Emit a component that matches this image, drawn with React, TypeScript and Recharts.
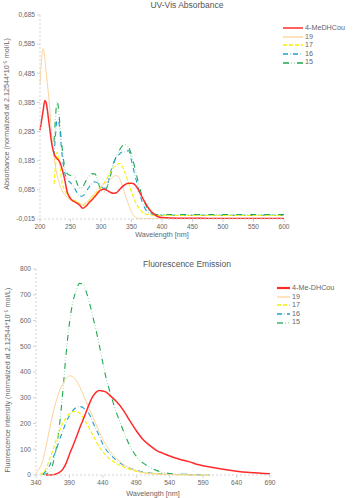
import { LineChart, Line, XAxis, YAxis, Legend } from "recharts";

// ---- UV-Vis absorbance (top) ----
const absWavelength = [
  200, 205, 208, 210, 215, 220, 223, 225, 228, 230, 233, 235,
  240, 245, 250, 255, 260, 265, 270, 275, 280, 285, 290, 295, 300, 305, 310,
  315, 320, 325, 330, 335, 340, 345, 350, 355, 360, 365, 370, 375, 380, 385,
  390, 395, 400, 425, 450, 475, 500, 525, 550, 575, 600,
];
const absMeDHCou = [
  0.29, 0.355, 0.392, 0.385, 0.31, 0.235, 0.21, 0.2, 0.192, 0.188, 0.178, 0.165,
  0.125, 0.075, 0.055, 0.046, 0.04, 0.032, 0.022, 0.028, 0.04, 0.05, 0.062, 0.075, 0.085, 0.087, 0.083,
  0.077, 0.073, 0.075, 0.085, 0.096, 0.104, 0.108, 0.108, 0.104, 0.09, 0.07, 0.05, 0.032, 0.016, 0.005,
  -0.003, -0.008, -0.01, -0.012, -0.012, -0.013, -0.013, -0.013, -0.013, -0.013, -0.013,
];
const abs19 = [
  0.445, 0.57, 0.535, 0.49, 0.39, 0.25, 0.2, 0.17, 0.135, 0.12, 0.097, 0.087,
  0.07, 0.058, 0.05, 0.045, 0.04, 0.036, 0.033, 0.04, 0.05, 0.062, 0.074, 0.086, 0.097, 0.105, 0.113,
  0.12, 0.13, 0.134, 0.125, 0.1, 0.065, 0.035, 0.01, -0.007, -0.012, -0.014, -0.014, -0.014, -0.014, -0.014,
  -0.014, -0.014, -0.014, -0.014, -0.014, -0.014, -0.014, -0.014, -0.014, -0.014, -0.014,
];
const abs17 = [
  null, null, null, null, null, null, 0.105, 0.16, 0.215, 0.195, 0.16, 0.125,
  0.085, 0.068, 0.058, 0.05, 0.045, 0.038, 0.03, 0.038, 0.048, 0.058, 0.068, 0.08, 0.095, 0.108, 0.125,
  0.143, 0.16, 0.168, 0.176, 0.165, 0.14, 0.11, 0.078, 0.05, 0.03, 0.015, 0.005, 0.001, 0, -0.002,
  -0.003, -0.003, -0.003, -0.003, -0.003, -0.003, -0.003, -0.003, -0.003, -0.003, -0.003,
];
const abs16 = [
  null, null, null, null, null, null, 0.2, 0.26, 0.325, 0.325, 0.28, 0.23,
  0.15, 0.12, 0.11, 0.098, 0.078, 0.063, 0.064, 0.077, 0.093, 0.106, 0.113, 0.108, 0.096, 0.09, 0.1,
  0.14, 0.175, 0.195, 0.207, 0.215, 0.215, 0.22, 0.185, 0.14, 0.1, 0.06, 0.03, 0.012, 0.005, 0.001,
  -0.001, -0.002, -0.002, -0.002, -0.002, -0.002, -0.002, -0.002, -0.002, -0.002, -0.002,
];
const abs15 = [
  null, null, null, null, null, null, 0.25, 0.32, 0.388, 0.37, 0.3, 0.255,
  0.17, 0.14, 0.135, 0.136, 0.112, 0.09, 0.095, 0.115, 0.13, 0.14, 0.14, 0.115, 0.082, 0.078, 0.095,
  0.13, 0.17, 0.2, 0.22, 0.236, 0.24, 0.232, 0.205, 0.165, 0.12, 0.08, 0.05, 0.025, 0.01, 0.003,
  0.001, 0, 0, 0, 0, 0, 0, 0, 0, 0, 0,
];
const absXTicks = [200, 250, 300, 350, 400, 450, 500, 550, 600];
const absYTicks = [-0.015, 0.085, 0.185, 0.285, 0.385, 0.485, 0.585, 0.685];

// ---- Fluorescence emission (bottom) ----
const emWavelength = [
  340, 345, 350, 355, 360, 365, 370, 375, 380, 385, 390, 395, 400, 405, 410, 415,
  420, 425, 430, 435, 440, 445, 450, 460, 470, 480, 490, 500, 510, 520, 530, 540,
  550, 560, 570, 580, 590, 600, 620, 640, 660, 690,
];
const emMeDHCou = [
  null, null, null, 0, 0, 1, 4, 10, 22, 45, 80, 112, 145, 180, 212, 245,
  278, 305, 322, 328, 326, 322, 310, 286, 254, 212, 172, 138, 115, 96, 84, 74,
  65, 57, 51, 42, 36, 31, 22, 15, 10, 5,
];
const em19 = [
  5, 25, 55, 110, 175, 235, 285, 325, 355, 375, 385, 382, 368, 345, 315, 285,
  255, 225, 195, 165, 138, 115, 95, 65, 42, 27, 17, 10, 6, 4, 3, 2,
  1, 1, 0, 0, 0, 0, null, null, null, null,
];
const em17 = [
  null, 2, 8, 25, 60, 95, 135, 170, 200, 222, 238, 246, 247, 240, 225, 205,
  180, 155, 130, 108, 90, 75, 63, 45, 32, 22, 14, 9, 6, 4, 3, 2,
  1, 1, 0, 0, 0, 0, null, null, null, null,
];
const em16 = [
  null, null, 3, 15, 35, 65, 95, 135, 170, 205, 230, 250, 262, 266, 262, 250,
  235, 205, 176, 150, 120, 98, 82, 58, 40, 27, 18, 12, 8, 5, 4, 3,
  2, 2, 1, 1, 0, 0, null, null, null, null,
];
const em15 = [
  null, null, 2, 4, 12, 40, 100, 190, 320, 470, 590, 670, 715, 744, 742, 712,
  668, 615, 560, 500, 435, 375, 328, 245, 176, 115, 73, 47, 30, 18, 10, 6,
  4, 3, 2, 2, 1, 1, null, null, null, null,
];
const emXTicks = [340, 390, 440, 490, 540, 590, 640, 690];
const emYTicks = [0, 100, 200, 300, 400, 500, 600, 700, 800];

const absData = absWavelength.map((w, i) => ({
  w, a: absMeDHCou[i], b: abs19[i], c: abs17[i], d: abs16[i], e: abs15[i],
}));
const emData = emWavelength.map((w, i) => ({
  w, a: emMeDHCou[i], b: em19[i], c: em17[i], d: em16[i], e: em15[i],
}));

const FONT = "'Liberation Sans', Arial, sans-serif";
const TEXT = "#666";

// each series is one or two strokes; 15 and 16 have dark dashes with pale dots
interface Stroke {
  color: string;
  dash?: string;
}
interface Series {
  key: string;
  width: number;
  strokes: Stroke[];
}

const SERIES: Series[] = [
  { key: "e", width: 1.1, strokes: [{ color: "#1fa84e", dash: "6 8" }, { color: "#9fe0b4", dash: "0 8 1 2 1 2" }] },
  { key: "d", width: 1.1, strokes: [{ color: "#1c9fcc", dash: "5 5" }, { color: "#9fdcee", dash: "0 7 1 2" }] },
  { key: "c", width: 1.1, strokes: [{ color: "#f4f000", dash: "4 2" }] },
  { key: "b", width: 1, strokes: [{ color: "#fdd49a" }] },
  { key: "a", width: 1.5, strokes: [{ color: "#ff2b2b" }] },
];

function ChartLegend({ names, lineW, redW }: { names: string[]; lineW: number; redW: number }) {
  const order = ["a", "b", "c", "d", "e"];
  return (
    <div style={{ fontFamily: FONT, fontSize: 7.2, color: TEXT, lineHeight: "8.6px" }}>
      {order.map((k, i) => {
        const s = SERIES.find((x) => x.key === k)!;
        return (
          <div key={k} style={{ display: "flex", alignItems: "center", height: 8.6 }}>
            <svg width={lineW} height={4} style={{ marginRight: 2 }}>
              {s.strokes.map((st, j) => (
                <line
                  key={j}
                  x1={0} y1={2} x2={lineW} y2={2}
                  stroke={st.color}
                  strokeWidth={k === "a" ? redW : 1.3}
                  strokeDasharray={st.dash}
                />
              ))}
            </svg>
            <span>{names[i]}</span>
          </div>
        );
      })}
    </div>
  );
}

function Title({ text, top }: { text: string; top: number }) {
  return (
    <div
      style={{
        position: "absolute", left: 187, top, transform: "translate(-50%, -50%)",
        fontFamily: FONT, fontSize: 8.5, color: "#555", whiteSpace: "nowrap",
      }}
    >
      {text}
    </div>
  );
}

function VLabel({ text, left, top }: { text: string; left: number; top: number }) {
  return (
    <div
      style={{
        position: "absolute", left, top, transform: "translate(-50%, -50%) rotate(-90deg)",
        fontFamily: FONT, fontSize: 7.2, color: TEXT, whiteSpace: "nowrap",
      }}
    >
      {text}
    </div>
  );
}

const tickStyle = { fontSize: 6.6, fill: TEXT, fontFamily: FONT };
const axisLineStyle = { stroke: "#d4d4d4", strokeDasharray: "2 2" };

function renderLines(redWidth: number) {
  return SERIES.flatMap((s) =>
    s.strokes.map((st, j) => (
      <Line
        key={`${s.key}-${j}`} dataKey={s.key} type="monotone" stroke={st.color}
        strokeWidth={s.key === "a" ? redWidth : s.width} strokeDasharray={st.dash} dot={false}
        activeDot={false} isAnimationActive={false} connectNulls={false} legendType="none"
      />
    ))
  );
}

export default function App() {
  return (
    <div style={{ position: "absolute", left: 0, top: 0, width: 361, height: 498, background: "#fff" }}>
      <div style={{ position: "absolute", left: 0, top: 0 }}>
        <LineChart width={361} height={240} data={absData} margin={{ top: 15, right: 7, left: 0, bottom: 0 }}>
          <XAxis
            dataKey="w" type="number" domain={[200, 600]} ticks={absXTicks}
            tick={tickStyle} tickSize={3} height={21}
            axisLine={axisLineStyle} tickLine={{ stroke: "#d4d4d4" }}
            label={{ value: "Wavelength [nm]", position: "insideBottom", offset: 3, style: { fontSize: 7.2, fill: TEXT, fontFamily: FONT } }}
          />
          <YAxis
            type="number" domain={[-0.015, 0.685]} ticks={absYTicks} allowDataOverflow
            tick={tickStyle} tickSize={3} width={40}
            axisLine={axisLineStyle} tickLine={{ stroke: "#d4d4d4" }}
            tickFormatter={(v: number) => v.toFixed(3).replace(".", ",")}
          />
          <Legend
            layout="vertical" verticalAlign="top" align="right"
            wrapperStyle={{ top: 24, left: 283, width: 70 }}
            content={() => <ChartLegend names={["4-MeDHCou", "19", "17", "16", "15"]} lineW={20} redW={1.5} />}
          />
          {renderLines(1.5)}
        </LineChart>
        <Title text="UV-Vis Absorbance" top={5} />
        <VLabel text="Absorbance (normalized at 2.12544*10⁻⁵ mol/L)" left={6} top={114} />
      </div>

      <div style={{ position: "absolute", left: 0, top: 240 }}>
        <LineChart width={361} height={258} data={emData} margin={{ top: 29, right: 11, left: 0, bottom: 0 }}>
          <XAxis
            dataKey="w" type="number" domain={[340, 690]} ticks={emXTicks}
            tick={tickStyle} tickSize={3} height={23}
            axisLine={axisLineStyle} tickLine={{ stroke: "#d4d4d4" }}
            label={{ value: "Wavelength [nm]", position: "insideBottom", offset: 2.5, style: { fontSize: 7.2, fill: TEXT, fontFamily: FONT } }}
          />
          <YAxis
            type="number" domain={[0, 800]} ticks={emYTicks}
            tick={tickStyle} tickSize={3} width={36}
            axisLine={axisLineStyle} tickLine={{ stroke: "#d4d4d4" }}
          />
          <Legend
            layout="vertical" verticalAlign="top" align="right"
            wrapperStyle={{ top: 44, left: 277, width: 80 }}
            content={() => <ChartLegend names={["4-Me-DHCou", "19", "17", "16", "15"]} lineW={13} redW={2.2} />}
          />
          {renderLines(1.5)}
        </LineChart>
        <Title text="Fluorescence Emission" top={24} />
        <VLabel text="Fluorescence intensity (normalized at 2.12544*10⁻⁵ mol/L)" left={7} top={140} />
      </div>
    </div>
  );
}
